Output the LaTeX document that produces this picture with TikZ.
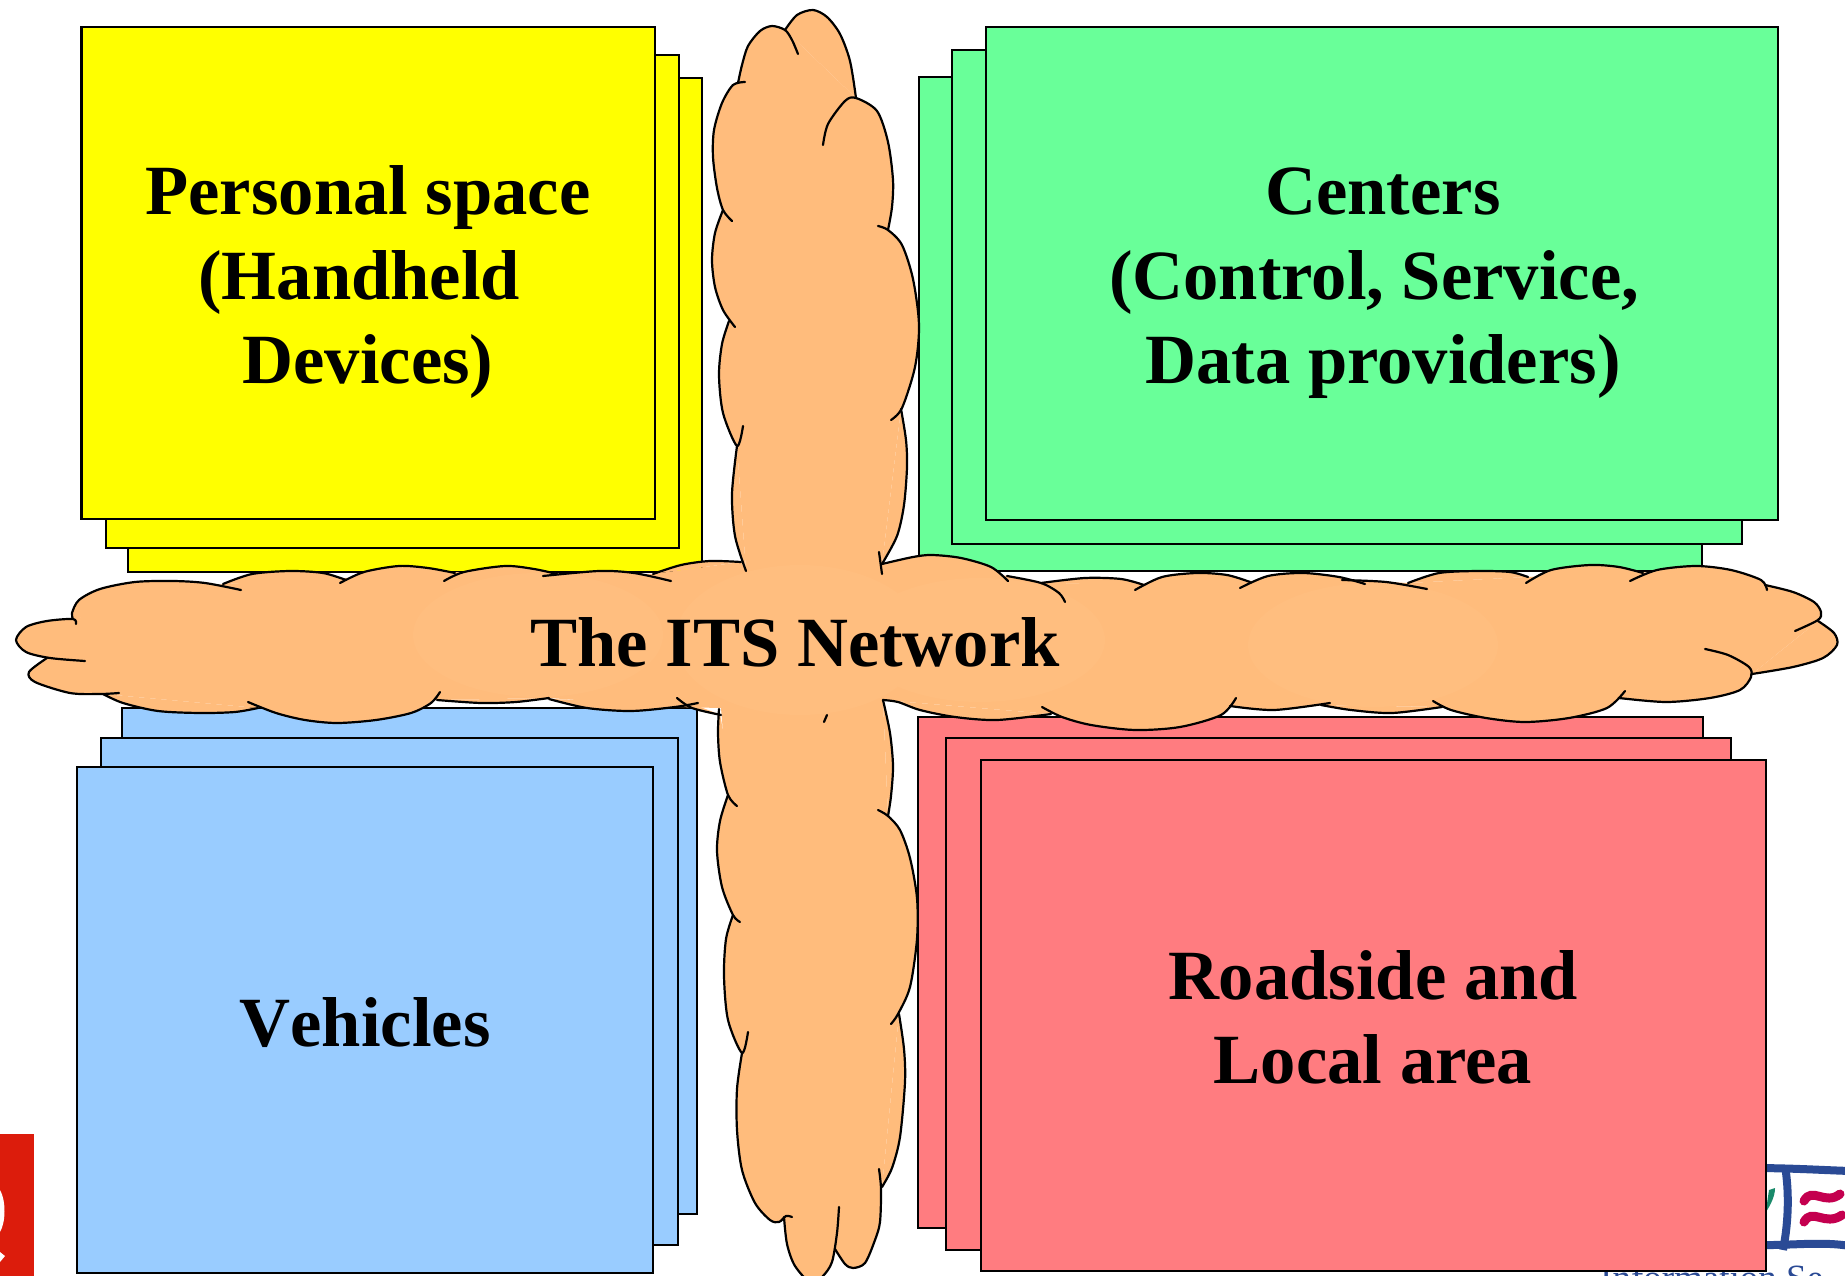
\documentclass[tikz,border=0pt]{standalone}
\usepackage{fontspec}
\setmainfont{Liberation Serif}
\definecolor{cyel}{HTML}{FFFF00}
\definecolor{cgrn}{HTML}{69FF99}
\definecolor{cblu}{HTML}{99CCFF}
\definecolor{cpnk}{HTML}{FF7C80}
\definecolor{ccld}{HTML}{FFBC7C}
\definecolor{cglow}{HTML}{FFBE7F}
\definecolor{logored}{HTML}{DC1C0C}
\definecolor{logoblue}{HTML}{2A4A95}
\definecolor{logopink}{HTML}{C4004F}
\definecolor{logogrn}{HTML}{1A8A6A}
\tikzset{
  sheet/.style={draw=black,line width=2.4pt},
  lbl/.style={font=\fontsize{70.6}{84.5}\selectfont\bfseries,align=center,inner sep=0pt,text=black},
  lobeline/.style={draw=black,line width=2.2pt,line cap=round,line join=round},
}
\def\cloudlobes{%
% vertical, upper
\lobe{(785,30)(797,15)(813,10)(827,17)(840,34)(850,61)(856,98)}
\lobe{(798,54)(792,40)(785,30)(772,26)(760,31)(748,46)(742,65)(738,83)}
\lobe{(745,82)(733,85)(722,103)(714,130)(713,157)(717,188)(723,210)(732,221)}
\lobe{(723,210)(715,233)(712,260)(715,287)(723,310)(735,327)}
\lobe{(729,321)(722,344)(719,375)(723,413)(737,446)(743,426)}
\lobe{(737,446)(732,494)(735,536)(746,571)}
\lobe{(823,145)(828,124)(845,101)(856,98)(877,111)(888,142)(893,180)(892,207)(888,230)}
\lobe{(878,226)(888,230)(902,245)(913,279)(919,325)(915,367)(902,408)(891,420)}
\lobe{(901,409)(906,440)(907,467)(904,505)(897,536)(882,564)}
\lobe{(879,552)(882,574)}
% vertical, lower
\lobe{(719,709)(718,733)(720,762)(728,795)(737,806)}
\lobe{(728,795)(720,821)(717,851)(722,887)(733,915)(740,922)}
\lobe{(733,915)(726,939)(724,976)(728,1020)(742,1053)(748,1032)}
\lobe{(742,1053)(737,1089)(737,1130)(742,1170)(755,1203)(770,1220)(779,1222)(786,1216)(792,1217)}
\lobe{(784,1217)(787,1244)(795,1266)(812,1284)(823,1276)(832,1262)(837,1233)(839,1207)}
\lobe{(835,1249)(845,1264)(853,1268)(865,1263)(875,1240)(880,1222)(881,1189)(879,1169)}
\lobe{(883,700)(890,733)(893,766)(891,796)(888,816)}
\lobe{(878,810)(888,816)(900,830)(910,858)(917,898)(917,939)(910,987)(898,1014)(891,1024)}
\lobe{(899,1014)(904,1049)(905,1082)(900,1137)(892,1168)(882,1187)}
\lobe{(827,715)(824,722)}
% horizontal, left top
\lobe{(76,624)(73,619)(47,621)(26,627)(16,640)(26,652)(50,658)(85,661)}
\lobe{(73,619)(72,613)(79,600)(100,589)(135,582)(173,581)(205,583)(241,590)}
\lobe{(223,584)(252,574)(290,571)(323,573)(346,580)}
\lobe{(340,583)(364,572)(399,566)(428,568)(455,573)}
\lobe{(444,581)(464,572)(505,566)(534,569)(557,574)}
\lobe{(543,576)(599,571)(634,573)(671,581)}
\lobe{(653,574)(681,565)(710,561)(741,562)}
% left bottom
\lobe{(119,693)(100,694)(70,693)(35,682)(29,672)(47,658)}
\lobe{(103,694)(123,703)(158,711)(200,713)(235,712)(258,708)}
\lobe{(248,702)(276,713)(305,720)(337,723)(376,720)(411,713)(431,703)(440,692)}
\lobe{(437,700)(481,703)(516,702)(549,698)}
\lobe{(549,699)(587,708)(631,711)(675,707)(698,703)}
\lobe{(677,698)(692,708)(721,715)}
% right top
\lobe{(882,564)(913,557)(932,555)(961,558)(991,567)(1008,581)}
\lobe{(1007,576)(1041,583)(1059,593)(1065,602)}
\lobe{(1041,583)(1085,578)(1121,579)(1144,585)}
\lobe{(1135,590)(1162,577)(1197,573)(1227,575)(1250,582)}
\lobe{(1240,588)(1268,576)(1303,573)(1339,577)(1365,584)}
\lobe{(1342,580)(1386,582)(1427,589)}
\lobe{(1408,583)(1439,573)(1478,571)(1510,572)(1528,577)}
\lobe{(1526,583)(1551,570)(1590,565)(1619,567)(1643,573)}
\lobe{(1630,581)(1657,570)(1696,566)(1731,570)(1761,580)(1767,590)}
\lobe{(1765,585)(1793,592)(1814,602)(1821,612)(1818,620)(1795,631)}
\lobe{(1818,621)(1834,633)(1837,645)(1823,658)(1793,667)(1752,674)}
% right bottom
\lobe{(1705,649)(1728,655)(1749,667)(1751,677)(1740,690)(1710,698)(1666,702)(1619,698)}
\lobe{(1625,691)(1607,708)(1569,718)(1525,722)(1486,718)(1451,710)(1433,701)}
\lobe{(1442,707)(1392,713)(1351,710)(1321,705)}
\lobe{(1330,703)(1274,710)(1230,706)}
\lobe{(1236,698)(1221,715)(1180,727)(1135,730)(1091,725)(1062,717)(1042,707)}
\lobe{(1051,714)(997,720)(955,717)(920,710)(898,702)(883,700)}
}
\begin{document}
\begin{tikzpicture}[x=1pt,y=-1pt]
\useasboundingbox (0,0) rectangle (1845,1276);
\clip (0,0) rectangle (1845,1276);
\fill[white] (0,0) rectangle (1845,1276);
% partial logos behind the sheets
\fill[logored] (0,1134) rectangle (34,1276);
\fill[white] (0,1190) .. controls (6,1200) and (6,1222) .. (0,1232) -- cycle;
\fill[white] (0,1252) -- (5,1256) -- (0,1262) -- cycle;
\draw[logoblue,line width=8pt,line join=round] (1750,1168) .. controls (1790,1168) and (1820,1170) .. (1850,1171);
\draw[logoblue,line width=8pt] (1750,1245) .. controls (1790,1246) and (1820,1241) .. (1850,1246);
\draw[logoblue,line width=8pt] (1785,1166) .. controls (1789,1190) and (1789,1220) .. (1783,1250);
\fill[logogrn] (1766,1210) -- (1769,1190) -- (1775,1188) .. controls (1775,1196) and (1771,1204) .. (1766,1212) -- cycle;
\draw[logopink,line width=9pt,line cap=round] (1804,1201) .. controls (1812,1186) and (1825,1206) .. (1840,1194);
\draw[logopink,line width=9pt,line cap=round] (1804,1222) .. controls (1812,1207) and (1825,1227) .. (1842,1215);
\node[anchor=base west,inner sep=0pt,text=logoblue,font=\fontsize{37}{40}\selectfont] (infotxt) at (1600,1290) {Information Se};
% stacked sheets
\path[sheet,fill=cyel] (128,78) rectangle (702,572);
\path[sheet,fill=cyel] (106,55) rectangle (679,548);
\path[sheet,fill=cyel] (81.5,27) rectangle (655,519);
\path[sheet,fill=cgrn] (919,77) rectangle (1702,571);
\path[sheet,fill=cgrn] (952,50) rectangle (1742,544);
\path[sheet,fill=cgrn] (986,27) rectangle (1778,520);
\path[sheet,fill=cblu] (122,708) rectangle (697,1214);
\path[sheet,fill=cblu] (101,738) rectangle (678,1245);
\path[sheet,fill=cblu] (77,767) rectangle (653,1273);
\path[sheet,fill=cpnk] (918,717) rectangle (1703,1228);
\path[sheet,fill=cpnk] (946,738) rectangle (1731,1250);
\path[sheet,fill=cpnk] (981,760) rectangle (1766,1271);
% cloud fill
\def\lobe#1{\fill[ccld] plot[smooth] coordinates {#1};}
\cloudlobes
\fill[ccld] (785,30)--(856,98)--(888,230)--(901,409)--(882,564)--(1008,576)--(1041,583)--(1142,584)--(1248,581)--(1342,580)--(1408,583)--(1527,577)--(1642,572)--(1765,585)--(1818,621)--(1752,674)--(1619,698)--(1442,707)--(1325,705)--(1232,706)--(1051,714)--(883,700)--(888,816)--(899,1014)--(882,1187)--(835,1249)--(784,1217)--(742,1053)--(733,915)--(728,795)--(721,708)--(675,707)--(549,698)--(437,700)--(258,708)--(103,694)--(47,658)--(73,619)--(223,584)--(345,578)--(452,572)--(556,573)--(653,574)--(741,562)--(746,571)--(737,446)--(729,321)--(723,210)--(738,83)--cycle;
\fill[cglow] (538,635) ellipse [x radius=125,y radius=62];
\fill[cglow] (800,640) ellipse [x radius=125,y radius=75];
\fill[cglow] (980,640) ellipse [x radius=125,y radius=62];
\fill[cglow] (1373,645) ellipse [x radius=125,y radius=62];
% cloud outline
\def\lobe#1{\draw[lobeline] plot[smooth] coordinates {#1};}
\cloudlobes
% labels
\node[lbl] (personal) at (368,282.5) {Personal space\\(Handheld\hspace*{.25em}\mbox{}\\Devices)};
\node[lbl] (centers) at (1383,283.5) {Centers\\(Control, Service,\hspace*{.25em}\mbox{}\\Data providers)};
\node[lbl] (network) at (795,642.5) {The ITS Network};
\node[lbl] (vehicles) at (365,1023) {\addfontfeature{Kerning=Off}Vehicles};
\node[lbl] (roadside) at (1373,1017.5) {Roadside and\\Local area};
\end{tikzpicture}
\end{document}
